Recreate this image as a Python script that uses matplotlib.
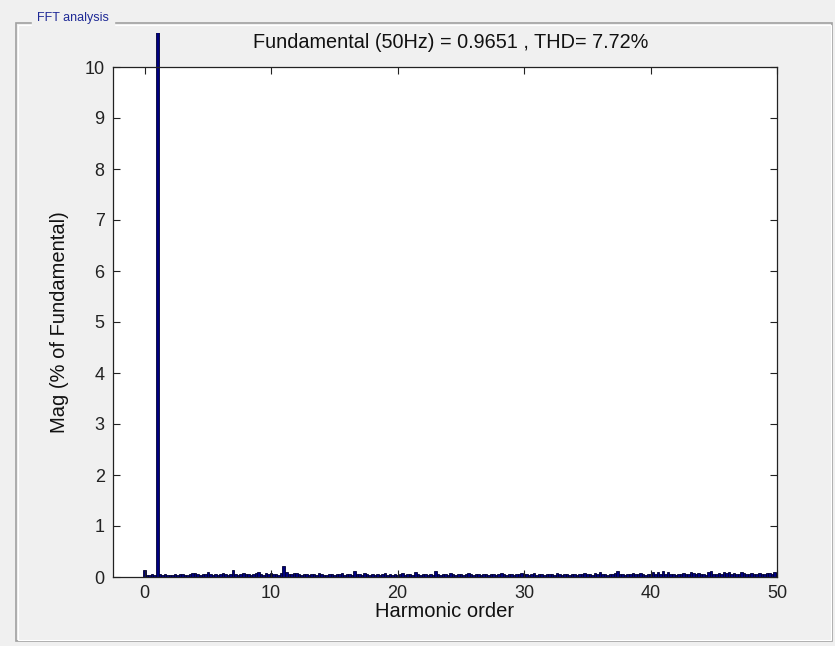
import numpy as np
import matplotlib
matplotlib.use("Agg")
import matplotlib.pyplot as plt
from matplotlib.patches import Rectangle
from matplotlib.transforms import Bbox, TransformedBbox

# harmonic order axis, 10 Hz resolution (0.2 of the 50 Hz fundamental)
harmonic_order = [i * 0.2 for i in range(251)]

# magnitude in % of fundamental (5 harmonics per row)
mag = [
    0.14, 0.04, 0.03, 0.05, 0.04, 100.0, 0.06, 0.04, 0.05, 0.03, 0.04, 0.03, 0.05, 0.04, 0.06,
    0.05, 0.04, 0.03, 0.05, 0.07, 0.08, 0.05, 0.04, 0.06, 0.05,
    0.09, 0.05, 0.04, 0.06, 0.03, 0.05, 0.08, 0.06, 0.04, 0.05, 0.13, 0.06, 0.04, 0.05, 0.07,
    0.06, 0.05, 0.03, 0.06, 0.08, 0.10, 0.05, 0.04, 0.07, 0.06,
    0.08, 0.05, 0.06, 0.04, 0.07, 0.22, 0.09, 0.06, 0.05, 0.08, 0.07, 0.05, 0.04, 0.06, 0.05,
    0.03, 0.06, 0.05, 0.04, 0.07, 0.05, 0.04, 0.03, 0.05, 0.06,
    0.04, 0.06, 0.05, 0.08, 0.04, 0.05, 0.06, 0.04, 0.11, 0.06, 0.05, 0.04, 0.07, 0.05, 0.03,
    0.05, 0.04, 0.06, 0.04, 0.05, 0.07, 0.04, 0.05, 0.03, 0.06,
    0.04, 0.05, 0.08, 0.04, 0.06, 0.05, 0.03, 0.09, 0.05, 0.04, 0.06, 0.05, 0.04, 0.06, 0.04,
    0.11, 0.05, 0.04, 0.06, 0.05, 0.04, 0.07, 0.05, 0.03, 0.05,
    0.06, 0.04, 0.05, 0.08, 0.05, 0.04, 0.06, 0.05, 0.04, 0.05, 0.06, 0.04, 0.05, 0.06, 0.04,
    0.05, 0.07, 0.05, 0.04, 0.06, 0.05, 0.04, 0.06, 0.05, 0.08,
    0.05, 0.06, 0.04, 0.05, 0.07, 0.04, 0.05, 0.06, 0.04, 0.05, 0.06, 0.05, 0.04, 0.07, 0.05,
    0.04, 0.06, 0.05, 0.04, 0.05, 0.06, 0.04, 0.05, 0.06, 0.08,
    0.05, 0.06, 0.04, 0.07, 0.05, 0.09, 0.06, 0.05, 0.04, 0.06, 0.05, 0.07, 0.11, 0.06, 0.05,
    0.04, 0.06, 0.05, 0.07, 0.05, 0.06, 0.08, 0.05, 0.04, 0.06,
    0.05, 0.09, 0.06, 0.10, 0.05, 0.12, 0.06, 0.09, 0.05, 0.06, 0.04, 0.05, 0.06, 0.08, 0.05,
    0.06, 0.10, 0.07, 0.05, 0.08, 0.06, 0.05, 0.04, 0.09, 0.11,
    0.06, 0.05, 0.08, 0.06, 0.10, 0.07, 0.09, 0.06, 0.08, 0.05, 0.06, 0.09, 0.07, 0.06, 0.05,
    0.08, 0.06, 0.05, 0.07, 0.06, 0.05, 0.08, 0.07, 0.06, 0.09,
    0.07,
]

x_ticks = [0, 10, 20, 30, 40, 50]
y_ticks = list(range(0, 11))
title_text = "Fundamental (50Hz) = 0.9651 , THD= 7.72%"

plt.rcParams['font.family'] = ['Liberation Sans', 'DejaVu Sans']

W, H = 835, 646
fig = plt.figure(figsize=(W / 100, H / 100), dpi=100, facecolor='#f0f0f0')

# panel frame ("FFT analysis" group box)
fig.patches.append(Rectangle((16 / W, 1 - 641 / H), (832 - 16) / W, (641 - 23) / H,
                             transform=fig.transFigure, fill=False,
                             edgecolor='#a0a0a0', linewidth=1.2, zorder=0))
fig.patches.append(Rectangle((17.5 / W, 1 - 639.5 / H), (830.5 - 17.5) / W, (639.5 - 24.5) / H,
                             transform=fig.transFigure, fill=False,
                             edgecolor='white', linewidth=0.8, zorder=0))
fig.text(37 / W, 1 - 18 / H, "FFT analysis", fontsize=9, color='#1f2a96',
         ha='left', va='center', backgroundcolor='#f0f0f0')

ax = fig.add_axes([113 / W, 1 - 577 / H, (777 - 113) / W, (577 - 67) / H])
ax.set_facecolor('white')

bars = ax.bar(harmonic_order, mag, width=0.2, color='#000080',
              edgecolor='#000030', linewidth=0.6, align='center')

# the fundamental bar runs past the top of the axes, up to the panel line
clip = TransformedBbox(Bbox.from_extents(113 / W, 1 - 577 / H, 777 / W, 1 - 33 / H),
                       fig.transFigure)
for b, v in zip(bars, mag):
    if v > 10:
        b.set_clip_box(clip)

ax.set_xlim(-2.5, 50)
ax.set_ylim(0, 10)
ax.set_xticks(x_ticks)
ax.set_yticks(y_ticks)
ax.tick_params(direction='in', length=5, width=0.8, top=True, right=True,
               labelsize=13, colors='#222222', pad=6)
for s in ax.spines.values():
    s.set_color('#222222')
    s.set_linewidth(0.9)

ax.set_title(title_text, fontsize=14.3, color='#111111', pad=14, x=0.508)
ax.set_xlabel("Harmonic order", fontsize=14.5, color='#111111', labelpad=0)
ax.set_ylabel("Mag (% of Fundamental)", fontsize=14.5, color='#111111', labelpad=11)

fig.savefig("out.png", dpi=100, facecolor=fig.get_facecolor())
